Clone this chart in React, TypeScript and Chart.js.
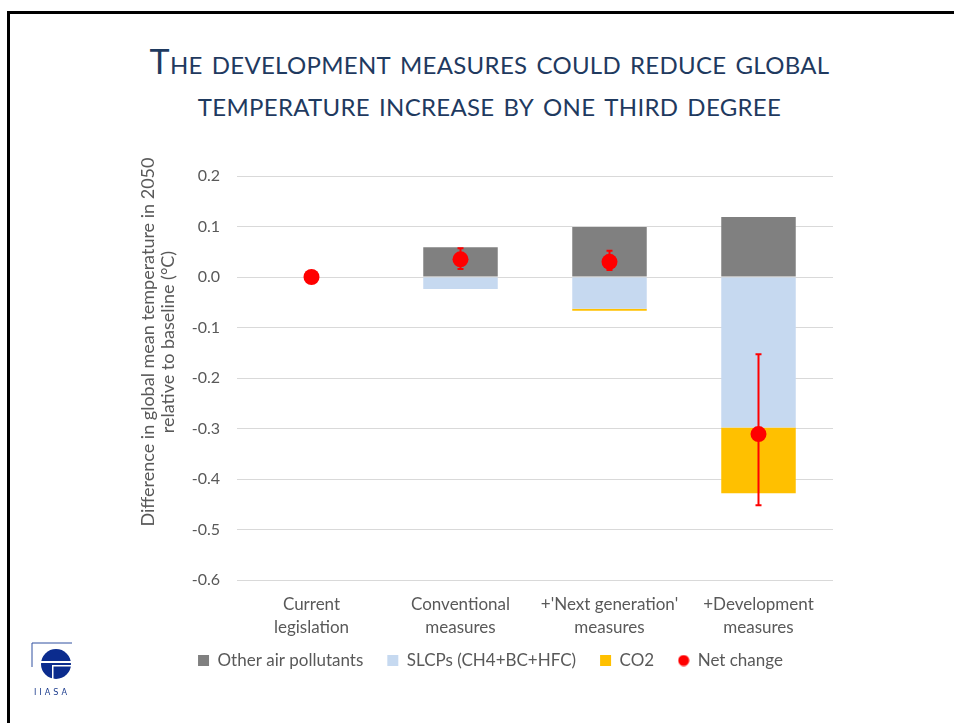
import React, { useEffect, useRef } from 'react';
import { Chart, registerables } from 'chart.js';

Chart.register(...registerables);

// ---------- data ----------
const categories: string[][] = [
  ['Current', 'legislation'],
  ['Conventional', 'measures'],
  ["+'Next generation'", 'measures'],
  ['+Development', 'measures'],
];
const otherAirPollutants: (number | null)[] = [null, 0.059, 0.099, 0.119];
const slcps: (number | null)[] = [null, -0.024, -0.063, -0.298];
const co2: (number | null)[] = [null, 0, -0.004, -0.13];
const netChange: number[] = [0, 0.035, 0.03, -0.311];
const netLow: (number | null)[] = [null, 0.016, 0.014, -0.452];
const netHigh: (number | null)[] = [null, 0.057, 0.052, -0.153];
const yMin = -0.6;
const yMax = 0.2;
const yStep = 0.1;

const seriesNames = ['Other air pollutants', 'SLCPs (CH4+BC+HFC)', 'CO2', 'Net change'];
const yTitleLines = ['Difference in global mean temperature in 2050', 'relative to baseline (°C)'];
const titleLines = ['The development measures could reduce global', 'temperature increase by one third degree'];

const FONT = 'Lato, "Open Sans", sans-serif';
const TEXT = '#595959';

const errorBarPlugin = {
  id: 'errorBars',
  afterDatasetsDraw(chart: any) {
    const meta = chart.getDatasetMeta(3);
    const ys = chart.scales.y;
    const ctx = chart.ctx;
    ctx.save();
    ctx.strokeStyle = '#FF0000';
    ctx.lineWidth = 2;
    meta.data.forEach((pt: any, i: number) => {
      const lo = netLow[i];
      const hi = netHigh[i];
      if (lo == null || hi == null) return;
      const x = pt.x;
      const y1 = ys.getPixelForValue(hi);
      const y2 = ys.getPixelForValue(lo);
      ctx.beginPath();
      ctx.moveTo(x, y1);
      ctx.lineTo(x, y2);
      ctx.moveTo(x - 3, y1);
      ctx.lineTo(x + 3, y1);
      ctx.moveTo(x - 3, y2);
      ctx.lineTo(x + 3, y2);
      ctx.stroke();
    });
    ctx.restore();
  },
};

function makeDot(): HTMLCanvasElement {
  const c = document.createElement('canvas');
  c.width = 12;
  c.height = 12;
  const g = c.getContext('2d')!;
  g.fillStyle = '#FF0000';
  g.beginPath();
  g.arc(6, 6, 5.5, 0, Math.PI * 2);
  g.fill();
  return c;
}

function ChartCanvas() {
  const ref = useRef<HTMLCanvasElement | null>(null);
  useEffect(() => {
    if (!ref.current) return;
    const dot = makeDot();
    const chart = new Chart(ref.current, {
      type: 'bar',
      data: {
        labels: categories as any,
        datasets: [
          {
            type: 'bar',
            label: seriesNames[0],
            data: otherAirPollutants as any,
            backgroundColor: '#808080',
            stack: 'bars',
            barPercentage: 0.5,
            categoryPercentage: 1,
            order: 1,
          },
          {
            type: 'bar',
            label: seriesNames[1],
            data: slcps as any,
            backgroundColor: '#C6D9F0',
            stack: 'bars',
            barPercentage: 0.5,
            categoryPercentage: 1,
            order: 1,
          },
          {
            type: 'bar',
            label: seriesNames[2],
            data: co2 as any,
            backgroundColor: '#FFC000',
            stack: 'bars',
            barPercentage: 0.5,
            categoryPercentage: 1,
            order: 1,
          },
          {
            type: 'line',
            label: seriesNames[3],
            data: netChange as any,
            showLine: false,
            pointRadius: 8,
            pointHoverRadius: 8,
            pointBackgroundColor: '#FF0000',
            pointBorderWidth: 0,
            borderColor: '#FF0000',
            backgroundColor: '#FF0000',
            stack: 'net',
            order: 0,
          } as any,
        ],
      },
      options: {
        animation: false,
        responsive: false,
        maintainAspectRatio: false,
        layout: { padding: { left: 148, right: 121, top: 36, bottom: 21 } },
        scales: {
          x: {
            stacked: true,
            offset: true,
            grid: { display: false, drawTicks: false },
            border: { display: false },
            ticks: {
              color: TEXT,
              font: { family: FONT, size: 17, lineHeight: 1.35 },
              padding: 13,
              maxRotation: 0,
              autoSkip: false,
            },
            afterFit: (s: any) => {
              s.height = 48;
              // let the two-line labels extend below the (shortened) axis box
              s._computeLabelArea = () => undefined;
            },
          },
          y: {
            stacked: true,
            min: yMin,
            max: yMax,
            grid: { color: '#D9D9D9', lineWidth: 1, drawTicks: false },
            border: { display: false },
            ticks: {
              stepSize: yStep,
              color: TEXT,
              font: { family: FONT, size: 16 },
              padding: 17,
              callback: (v: any) => Number(v).toFixed(1),
            },
            afterFit: (s: any) => {
              s.width = 89;
            },
          },
        },
        plugins: {
          tooltip: { enabled: false },
          legend: {
            position: 'bottom',
            labels: {
              color: TEXT,
              font: { family: FONT, size: 17 },
              usePointStyle: true,
              boxWidth: 11,
              boxHeight: 11,
              padding: 24,
              sort: (a: any, b: any) => a.datasetIndex - b.datasetIndex,
              generateLabels: (ch: any) => {
                const items = Chart.defaults.plugins.legend.labels.generateLabels(ch);
                items.forEach((it: any) => {
                  if (it.datasetIndex === 3) {
                    it.pointStyle = dot;
                  } else {
                    it.pointStyle = 'rect';
                    it.lineWidth = 0;
                    it.strokeStyle = 'rgba(0,0,0,0)';
                  }
                });
                return items;
              },
            },
          },
        },
      },
      plugins: [errorBarPlugin],
    });
    return () => chart.destroy();
  }, []);
  return (
    <canvas
      ref={ref}
      width={954}
      height={560}
      style={{ position: 'absolute', left: 0, top: 140, width: 954, height: 560 }}
    />
  );
}

function Logo() {
  return (
    <svg
      width={44}
      height={56}
      viewBox="0 0 44 56"
      style={{ position: 'absolute', left: 30, top: 641 }}
    >
      <line x1={2} y1={2} x2={42} y2={2} stroke="#3050A0" strokeWidth={1} />
      <line x1={2} y1={2} x2={2} y2={26} stroke="#3050A0" strokeWidth={1} />
      <circle cx={26} cy={23} r={15} fill="#0B2C8E" />
      <rect x={8} y={20} width={36} height={2} fill="#fff" />
      <rect x={22} y={24} width={22} height={1.5} fill="#fff" />
      <rect x={22} y={24} width={1.5} height={14} fill="#fff" />
      <text
        x={22}
        y={54}
        textAnchor="middle"
        fontFamily="DejaVu Sans Condensed, sans-serif"
        fontSize={9}
        letterSpacing={3}
        fill="#1A3A8C"
      >
        IIASA
      </text>
    </svg>
  );
}

export default function App() {
  return (
    <div
      style={{
        position: 'absolute',
        left: 0,
        top: 0,
        width: 954,
        height: 723,
        overflow: 'hidden',
        background: '#fff',
      }}
    >
      <div
        style={{
          position: 'absolute',
          left: 7,
          top: 11,
          width: 960,
          height: 720,
          borderLeft: '3px solid #000',
          borderTop: '3px solid #000',
        }}
      />
      {titleLines.map((t, i) => (
        <div
          key={i}
          style={{
            position: 'absolute',
            left: 0,
            width: 979,
            top: i === 0 ? 40 : 82,
            textAlign: 'center',
            fontFamily: FONT,
            fontSize: 34,
            letterSpacing: 0.3,
            lineHeight: '42px',
            fontVariant: 'small-caps',
            color: '#1F3A5F',
            whiteSpace: 'nowrap',
          }}
        >
          {t}
        </div>
      ))}
      <ChartCanvas />
      <div
        style={{
          position: 'absolute',
          left: 157 - 250,
          top: 342 - 20,
          width: 500,
          height: 40,
          transform: 'rotate(-90deg)',
          transformOrigin: '250px 20px',
          textAlign: 'center',
          fontFamily: FONT,
          fontSize: 18,
          lineHeight: '20px',
          color: TEXT,
          whiteSpace: 'nowrap',
        }}
      >
        {yTitleLines.map((l, i) => (
          <div key={i}>{l}</div>
        ))}
      </div>
      <Logo />
    </div>
  );
}
